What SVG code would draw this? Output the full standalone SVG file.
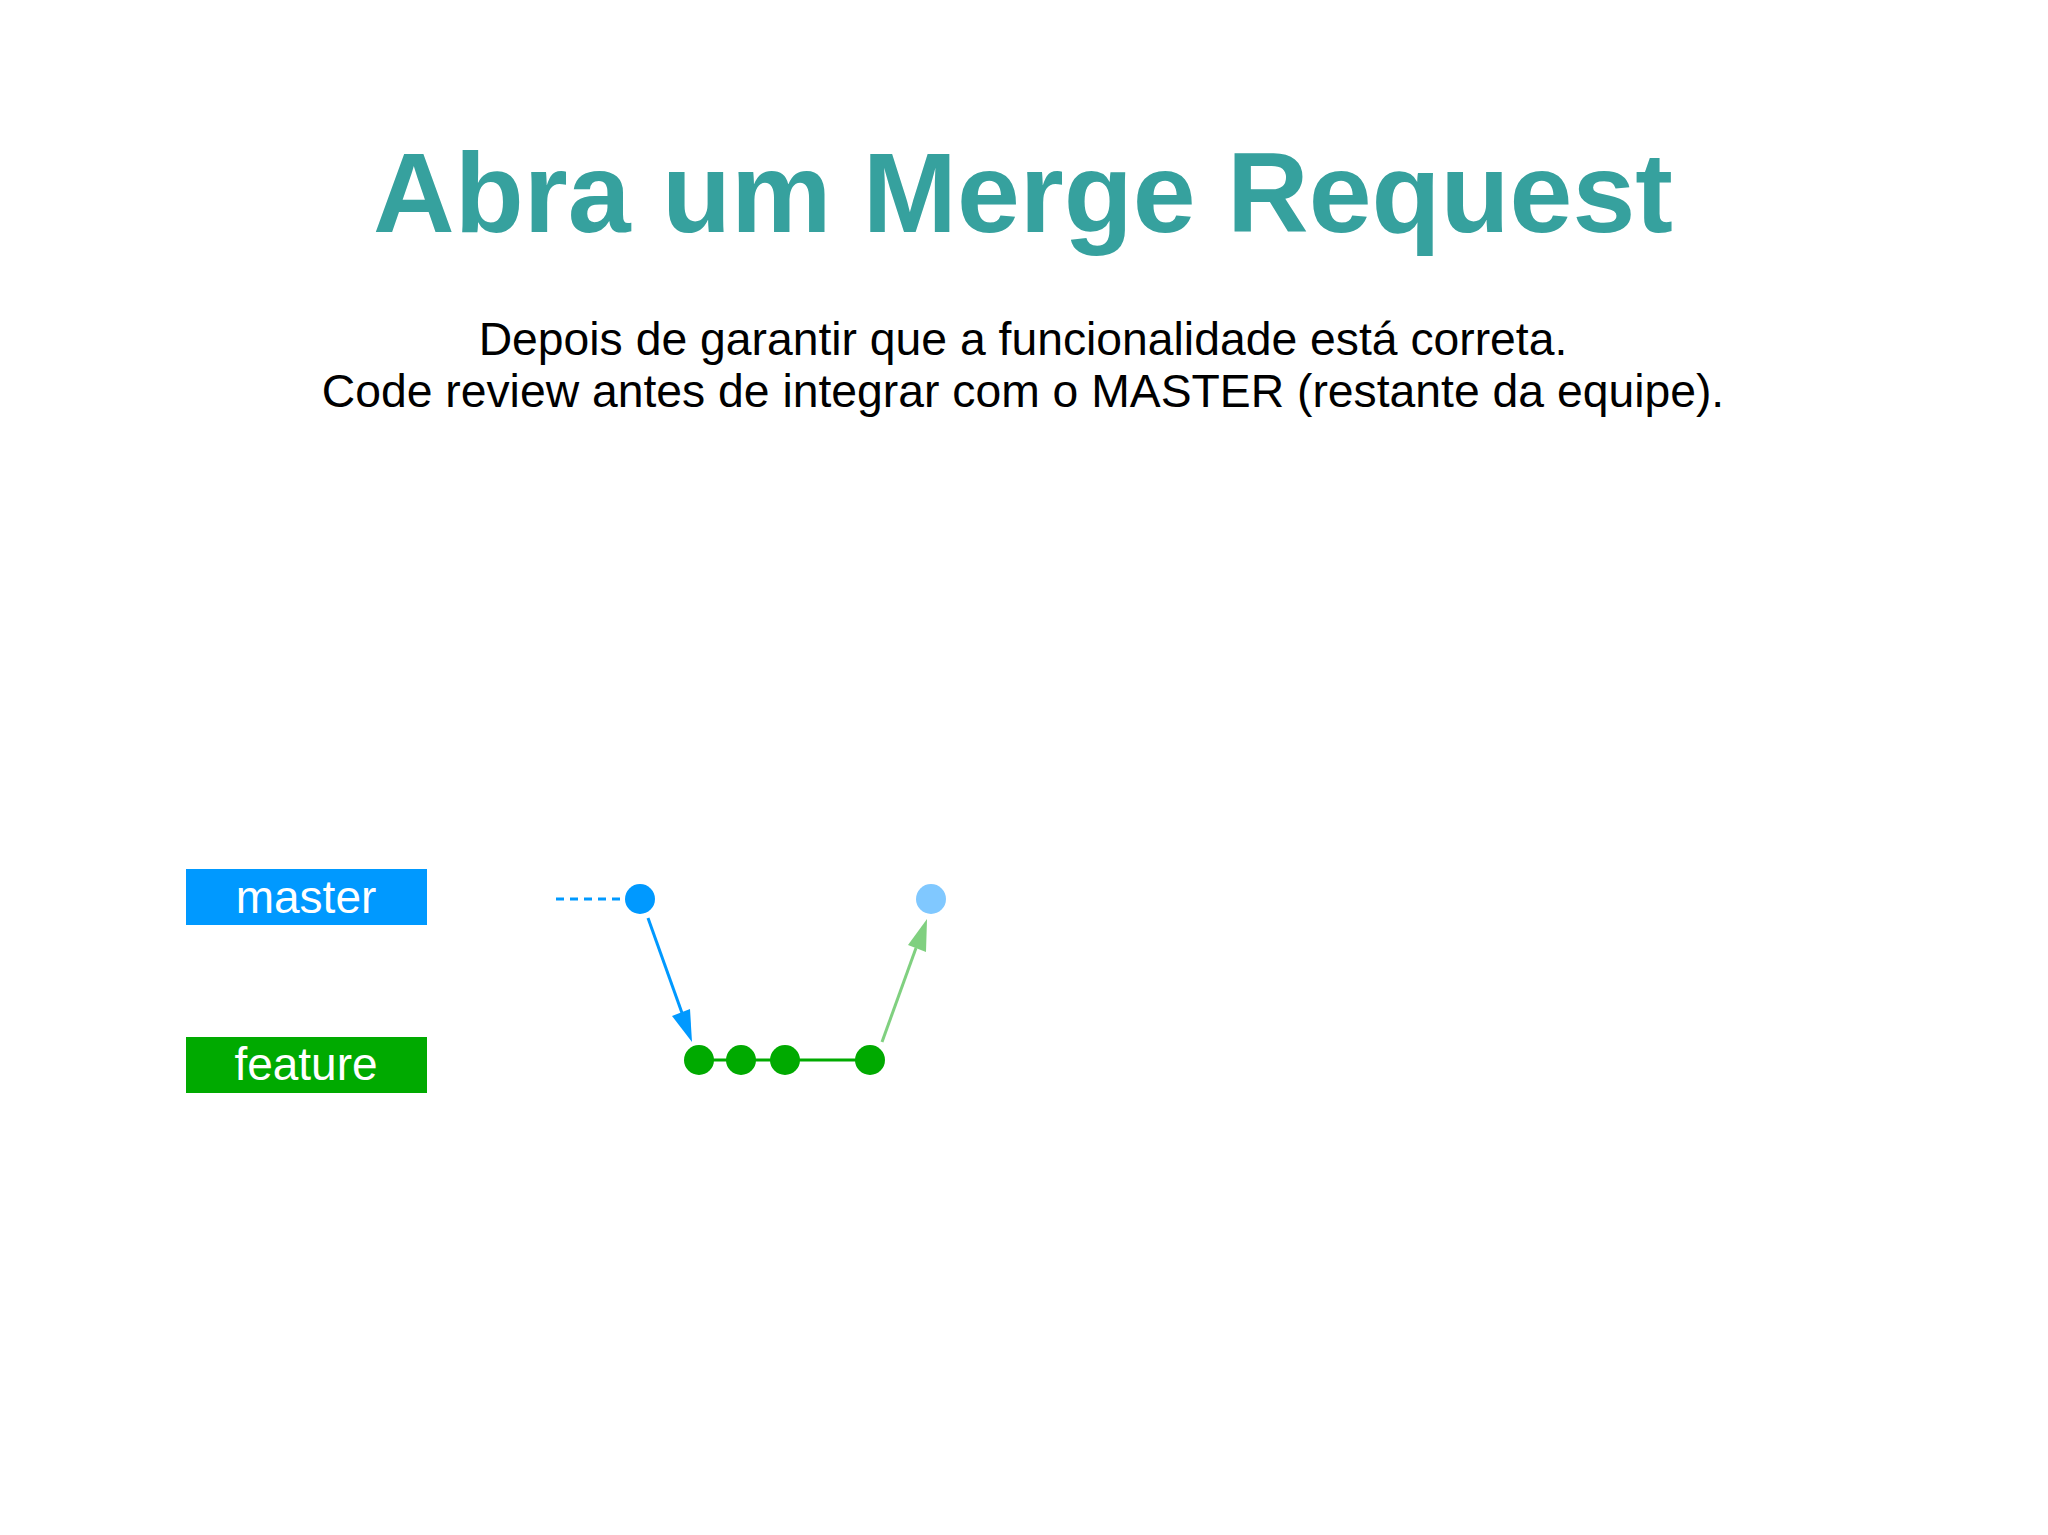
<svg xmlns="http://www.w3.org/2000/svg" width="2048" height="1535" viewBox="0 0 2048 1535">
<defs>
<style>
.title{font-family:"Liberation Sans",Arial,sans-serif;font-weight:bold;font-size:113px;fill:#36a19e;text-anchor:middle}
.sub{font-family:"Liberation Sans",Arial,sans-serif;font-size:46.3px;fill:#000;text-anchor:middle}
.lbl{font-family:"Liberation Sans",Arial,sans-serif;font-size:46px;fill:#fff;text-anchor:middle}
</style>
</defs>
<rect width="2048" height="1535" fill="#ffffff"/>
<text class="title" x="1023" y="232">Abra um Merge Request</text>
<text class="sub" x="1023" y="355">Depois de garantir que a funcionalidade está correta.</text>
<text class="sub" x="1023" y="407">Code review antes de integrar com o MASTER (restante da equipe).</text>
<g id="label-master"><rect x="186" y="869" width="241" height="56" fill="#0099ff"/><text class="lbl" x="306" y="913">master</text></g>
<g id="label-feature"><rect x="186" y="1037" width="241" height="56" fill="#00aa00"/><text class="lbl" x="306" y="1080">feature</text></g>
<g id="connectors">
<line x1="556" y1="899" x2="620" y2="899" stroke="#0099ff" stroke-width="3" stroke-dasharray="8,6"/>
<line x1="741" y1="1060" x2="870" y2="1060" stroke="#00aa00" stroke-width="3"/>
<line x1="699" y1="1060" x2="741" y2="1060" stroke="#00aa00" stroke-width="3"/>
<line x1="648" y1="918" x2="682" y2="1013" stroke="#0099ff" stroke-width="3"/>
<path d="M692,1042 L672,1016 L690,1009 z" fill="#0099ff"/>
<line x1="882" y1="1042" x2="916" y2="948" stroke="#80d080" stroke-width="3"/>
<path d="M927,919 L926,952 L908,945 z" fill="#80d080"/>
</g>
<g id="commit-m1"><circle cx="640" cy="899" r="15" fill="#0099ff"/></g>
<g id="commit-m2"><circle cx="931" cy="899" r="15" fill="#80c8ff"/></g>
<g id="commit-f1"><circle cx="699" cy="1060" r="15" fill="#00aa00"/></g>
<g id="commit-f2"><circle cx="741" cy="1060" r="15" fill="#00aa00"/></g>
<g id="commit-f3"><circle cx="785" cy="1060" r="15" fill="#00aa00"/></g>
<g id="commit-f4"><circle cx="870" cy="1060" r="15" fill="#00aa00"/></g>
</svg>
